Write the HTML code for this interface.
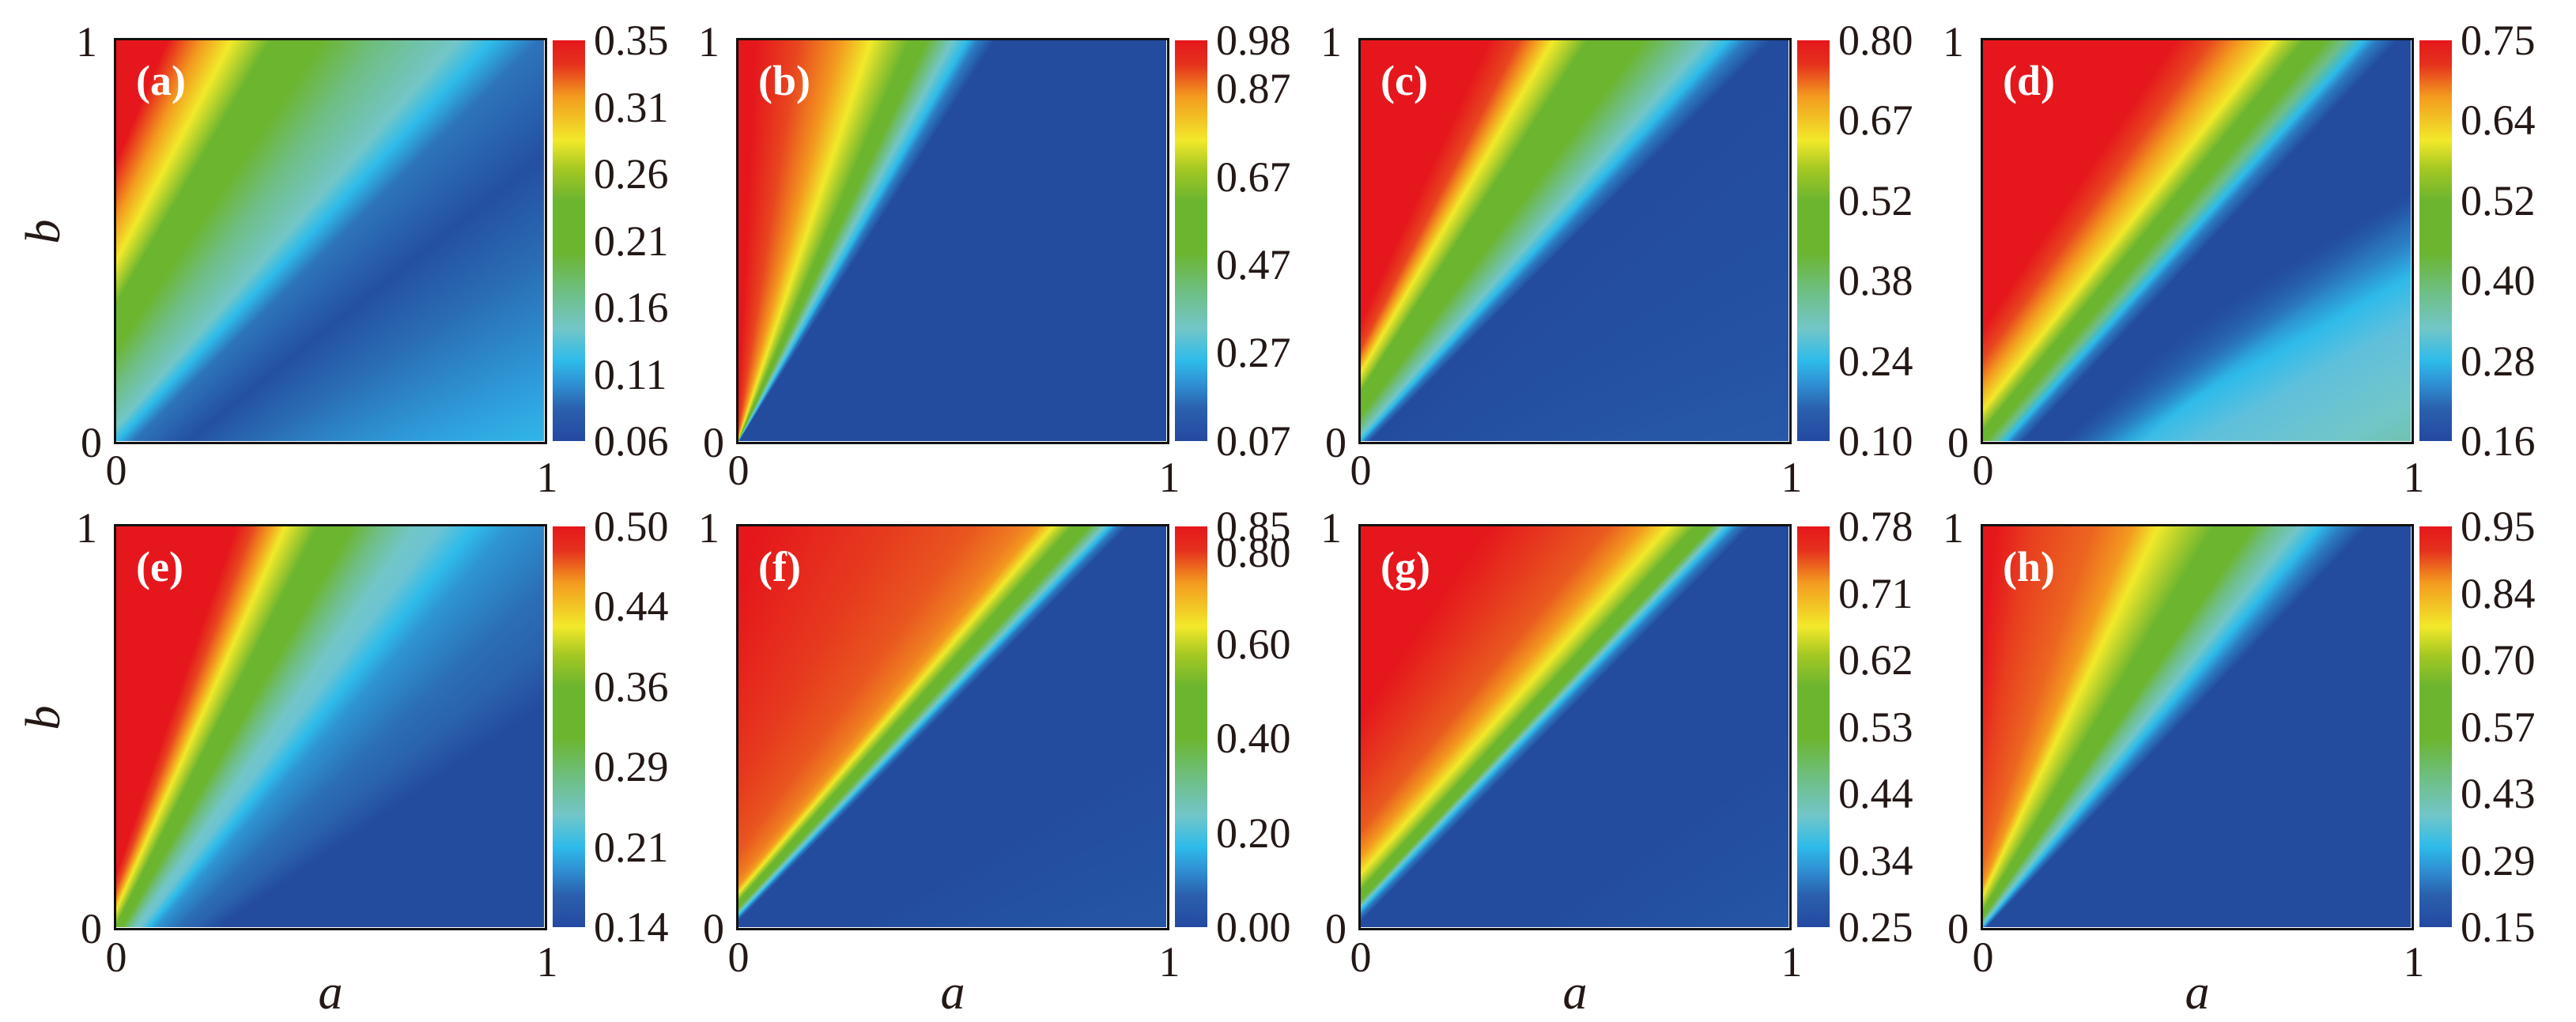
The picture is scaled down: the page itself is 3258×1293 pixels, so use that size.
<!DOCTYPE html>
<html><head><meta charset="utf-8">
<style>
html,body{margin:0;padding:0;background:#fff;}
body{width:3258px;height:1293px;position:relative;overflow:hidden;font-family:"Liberation Serif","Times New Roman",serif;color:#231815;}
.plot{position:absolute;width:541px;height:507px;background:#2449a0;}
.frame{position:absolute;border:3.5px solid #111;box-sizing:border-box;width:548px;height:514px;}
.cb{position:absolute;width:41px;height:507px;background:linear-gradient(to top,#2449a0 0%,#2a60ad 8%,#2f8ed1 14%,#2ebbea 20%,#72c6c8 28%,#6ebf85 37%,#6cb52f 47%,#6cb52f 60%,#a5c822 68%,#f2e92a 75%,#f39a1f 86%,#e5311d 94%,#e5171c 100%);}
.cl{position:absolute;font-size:54px;line-height:54px;margin-top:-27px;white-space:nowrap;}
.t{position:absolute;font-size:54px;line-height:54px;margin-top:-27px;}
.tr{position:absolute;font-size:54px;line-height:54px;margin-top:-27px;text-align:right;width:60px;}
.tc{position:absolute;font-size:54px;line-height:54px;margin-top:-27px;width:60px;margin-left:-30px;text-align:center;}
.pl{position:absolute;font-size:54px;line-height:54px;margin-top:-27px;font-weight:bold;color:#fff;}
.ax{position:absolute;font-size:62px;line-height:62px;font-style:italic;width:60px;margin-left:-30px;margin-top:-31px;text-align:center;}
</style></head><body>

<div class="plot" id="p0" style="left:147px;top:51px"></div>
<div class="plot" id="p1" style="left:934px;top:51px"></div>
<div class="plot" id="p2" style="left:1721px;top:51px"></div>
<div class="plot" id="p3" style="left:2508px;top:51px"></div>
<div class="plot" id="p4" style="left:147px;top:666px"></div>
<div class="plot" id="p5" style="left:934px;top:666px"></div>
<div class="plot" id="p6" style="left:1721px;top:666px"></div>
<div class="plot" id="p7" style="left:2508px;top:666px"></div>

<div class="frame" style="left:144px;top:48px"></div>
<div class="frame" style="left:931px;top:48px"></div>
<div class="frame" style="left:1718px;top:48px"></div>
<div class="frame" style="left:2505px;top:48px"></div>
<div class="frame" style="left:144px;top:663px"></div>
<div class="frame" style="left:931px;top:663px"></div>
<div class="frame" style="left:1718px;top:663px"></div>
<div class="frame" style="left:2505px;top:663px"></div>

<div class="pl" style="left:172px;top:102px">(a)</div>
<div class="pl" style="left:959px;top:102px">(b)</div>
<div class="pl" style="left:1746px;top:102px">(c)</div>
<div class="pl" style="left:2533px;top:102px">(d)</div>
<div class="pl" style="left:172px;top:717px">(e)</div>
<div class="pl" style="left:959px;top:717px">(f)</div>
<div class="pl" style="left:1746px;top:717px">(g)</div>
<div class="pl" style="left:2533px;top:717px">(h)</div>

<div class="cb" style="left:699px;top:51px"></div>
<div class="cb" style="left:1486px;top:51px"></div>
<div class="cb" style="left:2273px;top:51px"></div>
<div class="cb" style="left:3060px;top:51px"></div>
<div class="cb" style="left:699px;top:666px"></div>
<div class="cb" style="left:1486px;top:666px"></div>
<div class="cb" style="left:2273px;top:666px"></div>
<div class="cb" style="left:3060px;top:666px"></div>

<div class="cl" style="left:751px;top:51px">0.35</div>
<div class="cl" style="left:751px;top:135.5px">0.31</div>
<div class="cl" style="left:751px;top:220px">0.26</div>
<div class="cl" style="left:751px;top:304.5px">0.21</div>
<div class="cl" style="left:751px;top:389px">0.16</div>
<div class="cl" style="left:751px;top:473.5px">0.11</div>
<div class="cl" style="left:751px;top:558px">0.06</div>
<div class="cl" style="left:1538px;top:51px">0.98</div>
<div class="cl" style="left:1538px;top:112px">0.87</div>
<div class="cl" style="left:1538px;top:224px">0.67</div>
<div class="cl" style="left:1538px;top:335px">0.47</div>
<div class="cl" style="left:1538px;top:446px">0.27</div>
<div class="cl" style="left:1538px;top:558px">0.07</div>
<div class="cl" style="left:2325px;top:51px">0.80</div>
<div class="cl" style="left:2325px;top:152.4px">0.67</div>
<div class="cl" style="left:2325px;top:253.8px">0.52</div>
<div class="cl" style="left:2325px;top:355.2px">0.38</div>
<div class="cl" style="left:2325px;top:456.6px">0.24</div>
<div class="cl" style="left:2325px;top:558px">0.10</div>
<div class="cl" style="left:3112px;top:51px">0.75</div>
<div class="cl" style="left:3112px;top:152.4px">0.64</div>
<div class="cl" style="left:3112px;top:253.8px">0.52</div>
<div class="cl" style="left:3112px;top:355.2px">0.40</div>
<div class="cl" style="left:3112px;top:456.6px">0.28</div>
<div class="cl" style="left:3112px;top:558px">0.16</div>
<div class="cl" style="left:751px;top:666px">0.50</div>
<div class="cl" style="left:751px;top:767.4px">0.44</div>
<div class="cl" style="left:751px;top:868.8px">0.36</div>
<div class="cl" style="left:751px;top:970.2px">0.29</div>
<div class="cl" style="left:751px;top:1071.6px">0.21</div>
<div class="cl" style="left:751px;top:1173px">0.14</div>
<div class="cl" style="left:1538px;top:666px">0.85</div>
<div class="cl" style="left:1538px;top:699px">0.80</div>
<div class="cl" style="left:1538px;top:815px">0.60</div>
<div class="cl" style="left:1538px;top:934px">0.40</div>
<div class="cl" style="left:1538px;top:1054px">0.20</div>
<div class="cl" style="left:1538px;top:1173px">0.00</div>
<div class="cl" style="left:2325px;top:666px">0.78</div>
<div class="cl" style="left:2325px;top:750.5px">0.71</div>
<div class="cl" style="left:2325px;top:835px">0.62</div>
<div class="cl" style="left:2325px;top:919.5px">0.53</div>
<div class="cl" style="left:2325px;top:1004px">0.44</div>
<div class="cl" style="left:2325px;top:1088.5px">0.34</div>
<div class="cl" style="left:2325px;top:1173px">0.25</div>
<div class="cl" style="left:3112px;top:666px">0.95</div>
<div class="cl" style="left:3112px;top:750.5px">0.84</div>
<div class="cl" style="left:3112px;top:835px">0.70</div>
<div class="cl" style="left:3112px;top:919.5px">0.57</div>
<div class="cl" style="left:3112px;top:1004px">0.43</div>
<div class="cl" style="left:3112px;top:1088.5px">0.29</div>
<div class="cl" style="left:3112px;top:1173px">0.15</div>

<div class="tr" style="left:63px;top:53px">1</div>
<div class="tr" style="left:69px;top:560px">0</div>
<div class="tc" style="left:147px;top:595px">0</div>
<div class="tc" style="left:692px;top:604px">1</div>
<div class="tr" style="left:850px;top:53px">1</div>
<div class="tr" style="left:856px;top:560px">0</div>
<div class="tc" style="left:934px;top:595px">0</div>
<div class="tc" style="left:1479px;top:604px">1</div>
<div class="tr" style="left:1637px;top:53px">1</div>
<div class="tr" style="left:1643px;top:560px">0</div>
<div class="tc" style="left:1721px;top:595px">0</div>
<div class="tc" style="left:2266px;top:604px">1</div>
<div class="tr" style="left:2424px;top:53px">1</div>
<div class="tr" style="left:2430px;top:560px">0</div>
<div class="tc" style="left:2508px;top:595px">0</div>
<div class="tc" style="left:3053px;top:604px">1</div>
<div class="tr" style="left:63px;top:668px">1</div>
<div class="tr" style="left:69px;top:1175px">0</div>
<div class="tc" style="left:147px;top:1211px">0</div>
<div class="tc" style="left:692px;top:1217px">1</div>
<div class="tr" style="left:850px;top:668px">1</div>
<div class="tr" style="left:856px;top:1175px">0</div>
<div class="tc" style="left:934px;top:1211px">0</div>
<div class="tc" style="left:1479px;top:1217px">1</div>
<div class="tr" style="left:1637px;top:668px">1</div>
<div class="tr" style="left:1643px;top:1175px">0</div>
<div class="tc" style="left:1721px;top:1211px">0</div>
<div class="tc" style="left:2266px;top:1217px">1</div>
<div class="tr" style="left:2424px;top:668px">1</div>
<div class="tr" style="left:2430px;top:1175px">0</div>
<div class="tc" style="left:2508px;top:1211px">0</div>
<div class="tc" style="left:3053px;top:1217px">1</div>

<div class="ax" style="left:55px;top:293px;transform:rotate(-90deg)">b</div>
<div class="ax" style="left:55px;top:908px;transform:rotate(-90deg)">b</div>
<div class="ax" style="left:418px;top:1256px">a</div>
<div class="ax" style="left:1205px;top:1256px">a</div>
<div class="ax" style="left:1992px;top:1256px">a</div>
<div class="ax" style="left:2779px;top:1256px">a</div>

<script>
(function(){
var W=541,H=507;
var R='#e5171c',RO='#e8461f',O='#f39a1f',Y='#f2e92a',YG='#b3cf2c',G='#6cb52f',GT='#6fbe85',T='#72c6c8',C='#2ebbea',B1='#2b7bc2',B='#234b9e';
function px(a,b){return [a*W,(1-b)*H];}
function conic(c,stops){
  var cc=px(c[0],c[1]),cx=cc[0],cy=cc[1],ang=[];
  for(var i=0;i<stops.length;i++){var p=px(stops[i][1],stops[i][2]);var a=Math.atan2(p[0]-cx,-(p[1]-cy))*180/Math.PI;if(i>0&&a<ang[i-1])a=ang[i-1];ang.push(a);}
  var from=ang[0]-60,parts=[];
  for(var i=0;i<stops.length;i++)parts.push(stops[i][0]+' '+(ang[i]-from).toFixed(2)+'deg');
  return 'conic-gradient(from '+from.toFixed(2)+'deg at '+cx.toFixed(1)+'px '+cy.toFixed(1)+'px, '+parts.join(',')+')';
}
function linear(dir,stops){
  var vx=dir[0]*W,vy=-dir[1]*H,n=Math.hypot(vx,vy);var ux=vy/n,uy=-vx/n;
  var p0=px(stops[0][1],stops[0][2]),p1=px(stops[stops.length-1][1],stops[stops.length-1][2]);
  if((p1[0]-p0[0])*ux+(p1[1]-p0[1])*uy<0){ux=-ux;uy=-uy;}
  var ang=Math.atan2(ux,-uy)*180/Math.PI,L=Math.abs(ux)*W+Math.abs(uy)*H,parts=[],prev=-1e9;
  for(var i=0;i<stops.length;i++){var p=px(stops[i][1],stops[i][2]);var t=((p[0]-W/2)*ux+(p[1]-H/2)*uy)/L*100+50;if(t<prev)t=prev;prev=t;parts.push(stops[i][0]+' '+t.toFixed(2)+'%');}
  return 'linear-gradient('+ang.toFixed(2)+'deg, '+parts.join(',')+')';
}
var bg=[];
bg[0]=conic([-0.5,-0.57],[[R,0.12,1],[O,0.2,1],[Y,0.27,1],[G,0.36,1],[G,0.48,1],[GT,0.62,1],[T,0.8,1],[C,0.88,1],['#2d74bb',0.75,0.75],['#2450a2',0.4,0.2],['#2a6db5',0.7,0.25],['#2fa2de',0.85,0.05],['#30b6e8',1,0]]);
bg[1]=conic([-0.005,-0.01],[[R,0.04,1],[RO,0.14,1],[O,0.24,1],[Y,0.31,1],[YG,0.35,1],[G,0.4,1],[G,0.44,1],[T,0.5,1],[C,0.535,1],[B1,0.56,1],[B,0.6,1]]);
bg[2]=conic([-0.25,-0.29],[[R,0.3,1],[RO,0.37,1],[O,0.41,1],[Y,0.45,1],[YG,0.49,1],[G,0.53,1],[G,0.66,1],[GT,0.74,1],[T,0.81,1],[C,0.86,1],[B1,0.9,1],[B,0.96,1],['#2552a3',1,0.3],['#2759a8',1,0]]);
bg[3]=conic([-0.86,-1.09],[[R,0.45,1],[RO,0.53,1],[O,0.6,1],[Y,0.68,1],[YG,0.71,1],[G,0.75,1],[G,0.8,1],[GT,0.845,1],[C,0.89,1],[B1,0.92,1],[B,0.97,1],[B,1,0.85],['rgba(35,75,158,0)',1,0.55]])+','+
      linear([0.71,0.43],[[B,1,0.62],['#2b7fc4',1,0.5],[C,1,0.41],['#5fc0dc',1,0.3],[T,1,0.1],['#6fc2b0',1,0]]);
bg[4]=conic([-0.13,-0.27],[[R,0.28,1],[RO,0.32,1],[O,0.36,1],[Y,0.395,1],[YG,0.43,1],[G,0.47,1],[G,0.55,1],[GT,0.62,1],[T,0.7,1],['#6cc3d2',0.76,1],[C,0.84,1],['#2e95d3',0.92,1],['#2b6fb6',1,0.85],['#2a62ae',1,0.7],[B,1,0.55],[B,1,0]]);
bg[5]=conic([-0.43,-0.45],[[R,0.05,1],['#e63a1e',0.35,1],['#e9561f',0.55,1],['#ef7d21',0.66,1],[O,0.7,1],[Y,0.735,1],[YG,0.755,1],[G,0.78,1],[G,0.82,1],[T,0.855,1],[C,0.87,1],[B1,0.885,1],[B,0.91,1],[B,1,0.5],['#2556a5',1,0]]);
bg[6]=conic([-1,-1.07],[[R,0.3,1],['#e63a1e',0.45,1],['#e95a1f',0.58,1],[O,0.66,1],[Y,0.72,1],[YG,0.75,1],[G,0.78,1],[G,0.82,1],[T,0.845,1],[C,0.86,1],[B1,0.88,1],[B,0.91,1],[B,1,0.5],['#2556a5',1,0]]);
bg[7]=conic([-0.08,-0.1],[[R,0.03,1],['#e8401f',0.12,1],['#ec6620',0.26,1],[O,0.35,1],[Y,0.41,1],[YG,0.47,1],[G,0.54,1],[G,0.63,1],[GT,0.68,1],[T,0.74,1],[C,0.79,1],[B1,0.84,1],[B,0.9,1],[B,1,0]]);
for(var i=0;i<8;i++){document.getElementById('p'+i).style.background=bg[i];}
})();
</script>
</body></html>
